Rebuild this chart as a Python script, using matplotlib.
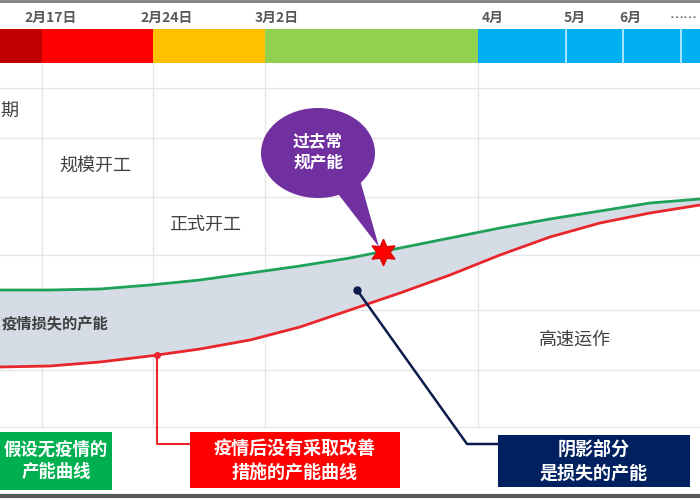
import matplotlib
matplotlib.use("Agg")
import matplotlib.pyplot as plt
from matplotlib.patches import Rectangle, Ellipse, Polygon

plt.rcParams['font.family'] = ['Noto Sans CJK SC', 'DejaVu Sans']

# ---- data ----
timeline_x = [0, 50, 100, 150, 200, 250, 300, 350, 400, 450, 500, 550, 600, 650, 700]
normal_capacity = [210, 210, 211, 215, 220, 227, 234, 242, 252, 262, 272, 281, 289, 297, 301]
no_action_capacity = [133, 134, 138, 144, 151, 160, 173, 190, 207, 225, 245, 263, 277, 287, 295]

phase_edges = [0, 42, 153, 265, 478, 566, 623, 681, 700]
phase_colors = ['#C00000', '#FF0000', '#FFC000', '#92D050', '#00B0F0', '#00B0F0', '#00B0F0', '#00B0F0']
date_labels = ['2月17日', '2月24日', '3月2日', '4月', '5月', '6月', '……']
date_label_x = [51, 167, 277, 493, 575, 630, 684]

stage_labels = ['期', '规模开工', '正式开工', '高速运作']
stage_x = [9, 95, 205, 575]
stage_y = [112, 166, 225, 340]

H = 500
def Y(p):
    return H - p

fig = plt.figure(figsize=(7, 5), dpi=100)
ax = fig.add_axes([0, 0, 1, 1])
ax.set_xlim(0, 700)
ax.set_ylim(0, H)
ax.axis('off')

# grid
grid_c = '#E6E6E6'
for gy in [88, 138, 197, 255, 310, 370, 427]:
    ax.plot([0, 700], [Y(gy), Y(gy)], color=grid_c, lw=1, zorder=1)
for gx in phase_edges[1:5]:
    ax.plot([gx, gx], [Y(63), Y(427)], color=grid_c, lw=1, zorder=1)

# phase bar
for i in range(len(phase_colors)):
    ax.add_patch(Rectangle((phase_edges[i], Y(63)), phase_edges[i + 1] - phase_edges[i], 34,
                           facecolor=phase_colors[i], edgecolor='none', zorder=2))
for gx in phase_edges[5:8]:
    ax.plot([gx, gx], [Y(63), Y(29)], color='#BFEFFF', lw=1.2, zorder=3)

for lab, lx in zip(date_labels, date_label_x):
    ax.text(lx, Y(18), lab, ha='center', va='center', fontsize=10, fontweight='bold', color='#595959', zorder=4)

# borders
ax.plot([0, 700], [Y(1), Y(1)], color='#7F7F7F', lw=2, zorder=5)
ax.plot([0, 700], [Y(496), Y(496)], color='#595959', lw=3, zorder=5)

# stage labels
for lab, sx, sy in zip(stage_labels, stage_x, stage_y):
    ax.text(sx, Y(sy), lab, ha='center', va='center', fontsize=13, color='#404040', zorder=4)

# curves and shaded loss
ax.fill_between(timeline_x, no_action_capacity, normal_capacity, color='#D6DCE5', zorder=2)
ax.plot(timeline_x, normal_capacity, color='#1FA15A', lw=2, zorder=3, solid_joinstyle='round')
ax.plot(timeline_x, no_action_capacity, color='#E8262B', lw=2, zorder=3, solid_joinstyle='round')
ax.text(2, Y(324), '疫情损失的产能', ha='left', va='center', fontsize=11, fontweight='bold',
        color='#404040', zorder=4)

# bubble
ax.add_patch(Polygon([(332, Y(186)), (360, Y(180)), (379, Y(247))], closed=True,
                     facecolor='#7030A0', edgecolor='none', zorder=5))
ax.add_patch(Ellipse((318, Y(153)), 114, 90, facecolor='#7030A0', edgecolor='none', zorder=5))
ax.text(318, Y(152), '过去常\n规产能', ha='center', va='center', fontsize=12, fontweight='bold',
        color='white', linespacing=1.25, zorder=6)
ax.plot([383], [Y(252)], marker=(6, 1, 0), markersize=19, color='#FF0000', markeredgecolor='#E00000', zorder=6)

# red callout
ax.plot([157, 157, 190], [Y(355), Y(444), Y(444)], color='#E8262B', lw=1.5, zorder=4)
ax.plot([157], [Y(355)], 'o', color='#E8262B', markersize=4, zorder=5)
ax.add_patch(Rectangle((190, Y(488)), 210, 56, facecolor='#FF0000', edgecolor='none', zorder=4))
ax.text(295, Y(460), '疫情后没有采取改善\n措施的产能曲线', ha='center', va='center', fontsize=13,
        fontweight='bold', color='white', linespacing=1.3, zorder=5)

# navy callout
ax.plot([357, 467, 498], [Y(290), Y(444), Y(444)], color='#0D1B4C', lw=1.8, zorder=4)
ax.plot([357], [Y(290)], 'o', color='#0D1B4C', markersize=5, zorder=5)
ax.add_patch(Rectangle((498, Y(487)), 192, 52, facecolor='#002060', edgecolor='none', zorder=4))
ax.text(594, Y(461), '阴影部分\n是损失的产能', ha='center', va='center', fontsize=13,
        fontweight='bold', color='white', linespacing=1.3, zorder=5)

# green box
ax.add_patch(Rectangle((0, Y(490)), 112, 58, facecolor='#00B050', edgecolor='none', zorder=4))
ax.text(56, Y(461), '假设无疫情的\n产能曲线', ha='center', va='center', fontsize=12.5,
        fontweight='bold', color='white', linespacing=1.3, zorder=5)

fig.savefig('out.png', dpi=100)
